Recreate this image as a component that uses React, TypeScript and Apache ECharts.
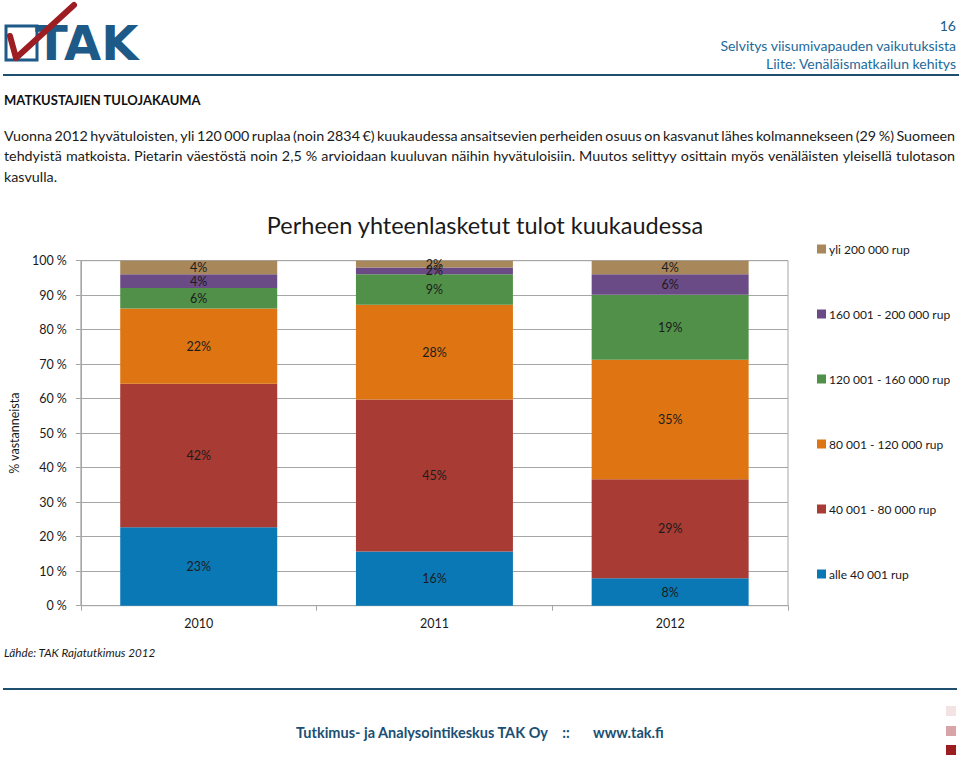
import React, { useEffect, useRef } from 'react';
import * as echarts from 'echarts';

const years = ['2010', '2011', '2012'];
const seriesNames = [
  'alle 40 001 rup',
  '40 001 - 80 000 rup',
  '80 001 - 120 000 rup',
  '120 001 - 160 000 rup',
  '160 001 - 200 000 rup',
  'yli 200 000 rup',
];
const alle40 = [23, 16, 8];
const r40to80 = [42, 45, 29];
const r80to120 = [22, 28, 35];
const r120to160 = [6, 9, 19];
const r160to200 = [4, 2, 6];
const yli200 = [4, 2, 4];
const seriesValues = [alle40, r40to80, r80to120, r120to160, r160to200, yli200];
const seriesColors = ['#0A78B5', '#A83B33', '#DE7512', '#519048', '#6B4B86', '#A8875A'];

const chartTitle = 'Perheen yhteenlasketut tulot kuukaudessa';
const yAxisName = '% vastanneista';
const headerNumber = '16';
const headerLine1 = 'Selvitys viisumivapauden vaikutuksista';
const headerLine2 = 'Liite: Venäläismatkailun kehitys';
const sectionTitle = 'MATKUSTAJIEN TULOJAKAUMA';
const paragraphLines = [
  'Vuonna 2012 hyvätuloisten, yli 120 000 ruplaa (noin 2834 €) kuukaudessa ansaitsevien perheiden osuus on kasvanut lähes kolmannekseen (29 %) Suomeen',
  'tehdyistä matkoista. Pietarin väestöstä noin 2,5 % arvioidaan kuuluvan näihin hyvätuloisiin. Muutos selittyy osittain myös venäläisten yleisellä tulotason',
  'kasvulla.',
];
const sourceText = 'Lähde: TAK Rajatutkimus 2012';
const footerName = 'Tutkimus- ja Analysointikeskus TAK Oy';
const footerSep = '::';
const footerUrl = 'www.tak.fi';

const FONT = 'Lato, "Open Sans", sans-serif';

export default function App() {
  const ref = useRef<HTMLDivElement>(null);
  useEffect(() => {
    document.body.style.margin = '0';
    if (!ref.current) return;
    const chart = echarts.init(ref.current, null, { renderer: 'svg' });

    const totals = years.map((_, i) => seriesValues.reduce((s, arr) => s + arr[i], 0));

    const series = seriesNames.map((name, si) => ({
      name,
      type: 'bar',
      stack: 'total',
      barCategoryGap: '33.4%',
      itemStyle: { color: seriesColors[si] },
      label: {
        show: true,
        position: 'inside',
        color: '#1c1c1c',
        fontFamily: FONT,
        fontSize: 12.5,
        formatter: (p: any) => p.data.raw + '%',
      },
      data: seriesValues[si].map((v, i) => ({ value: (v / totals[i]) * 100, raw: v })),
    }));

    const justifyLine = (text: string, x: number, y: number, width: number, font: string, fill: string) => {
      const canvas = document.createElement('canvas');
      const ctx = canvas.getContext('2d')!;
      ctx.font = font;
      const words = text.split(' ');
      const widths = words.map((w) => ctx.measureText(w).width);
      const total = widths.reduce((a, b) => a + b, 0);
      const gap = (width - total) / (words.length - 1);
      let cx = x;
      return words.map((w, i) => {
        const el = {
          type: 'text',
          style: { text: w, x: cx, y, font, fill, textVerticalAlign: 'middle' },
        };
        cx += widths[i] + gap;
        return el;
      });
    };

    const bodyFont = '14.3px ' + FONT;
    const bodyColor = '#1a1a1a';

    chart.setOption({
      animation: false,
      color: seriesColors,
      title: {
        text: chartTitle,
        left: 480,
        top: 208,
        textAlign: 'center',
        textStyle: { fontFamily: FONT, fontSize: 23.5, fontWeight: 'normal', color: '#1a1a1a' },
      },
      legend: {
        orient: 'vertical',
        left: 812,
        top: 237,
        itemWidth: 9,
        itemHeight: 9,
        itemGap: 51,
        icon: 'rect',
        data: [...seriesNames].reverse(),
        textStyle: { fontFamily: FONT, fontSize: 12, color: '#1a1a1a', lineHeight: 14, padding: [0, 0, 0, -2] },
      },
      grid: {
        left: 76,
        top: 260.7,
        width: 712,
        height: 345,
        show: true,
        borderColor: '#a6a6a6',
        borderWidth: 1,
      },
      xAxis: {
        type: 'category',
        data: years,
        axisLine: { lineStyle: { color: '#a6a6a6' } },
        axisTick: { show: true, length: 5, lineStyle: { color: '#a6a6a6' } },
        axisLabel: { fontFamily: FONT, fontSize: 12.5, color: '#1a1a1a', margin: 11 },
      },
      yAxis: {
        type: 'value',
        min: 0,
        max: 100,
        interval: 10,
        name: yAxisName,
        nameLocation: 'middle',
        nameGap: 56,
        nameRotate: 90,
        nameTextStyle: { fontFamily: FONT, fontSize: 12.5, color: '#1a1a1a' },
        axisLine: { show: true, lineStyle: { color: '#a6a6a6' } },
        axisTick: { show: true, length: 5, lineStyle: { color: '#a6a6a6' } },
        splitLine: { lineStyle: { color: '#a6a6a6' } },
        axisLabel: { fontFamily: FONT, fontSize: 12.5, color: '#1a1a1a', margin: 14, formatter: '{value} %' },
      },
      series,
      graphic: [
        // logo
        { type: 'rect', shape: { x: 6, y: 26, width: 31, height: 34 }, style: { fill: 'none', stroke: '#1d5a87', lineWidth: 3 } },
        {
          type: 'text',
          style: { text: 'TAK', x: 35, y: 43, font: '900 48px "DejaVu Sans", sans-serif', fill: '#1d5a87', textVerticalAlign: 'middle' },
        },
        {
          type: 'polyline',
          shape: { points: [[10, 36], [16, 58], [74, 5]] },
          style: { stroke: '#9c1d22', lineWidth: 6, fill: 'none', lineJoin: 'round', lineCap: 'round' },
        },
        { type: 'line', shape: { x1: 3, y1: 75, x2: 959, y2: 75 }, style: { stroke: '#1e4f6e', lineWidth: 2 } },
        // header right
        { type: 'text', style: { text: headerNumber, x: 956, y: 25, font: '14px ' + FONT, fill: '#1d5a87', textAlign: 'right', textVerticalAlign: 'middle' } },
        { type: 'text', style: { text: headerLine1, x: 956, y: 45, font: '14px ' + FONT, fill: '#1d6a9a', textAlign: 'right', textVerticalAlign: 'middle' } },
        { type: 'text', style: { text: headerLine2, x: 956, y: 63, font: '14px ' + FONT, fill: '#1d6a9a', textAlign: 'right', textVerticalAlign: 'middle' } },
        // section title and paragraph
        { type: 'text', style: { text: sectionTitle, x: 4, y: 100, font: 'bold 13px ' + FONT, fill: '#111', textVerticalAlign: 'middle' } },
        ...justifyLine(paragraphLines[0], 4, 135, 951, bodyFont, bodyColor),
        ...justifyLine(paragraphLines[1], 4, 155, 951, bodyFont, bodyColor),
        { type: 'text', style: { text: paragraphLines[2], x: 4, y: 176, font: bodyFont, fill: bodyColor, textVerticalAlign: 'middle' } },
        // source
        { type: 'text', style: { text: sourceText, x: 4, y: 652, font: 'italic 11.7px ' + FONT, fill: '#1a1a1a', textVerticalAlign: 'middle' } },
        // footer
        { type: 'line', shape: { x1: 3, y1: 689, x2: 957, y2: 689 }, style: { stroke: '#1e4f6e', lineWidth: 2 } },
        { type: 'text', style: { text: footerName, x: 296, y: 732, font: 'bold 14.5px ' + FONT, fill: '#1b4f73', textVerticalAlign: 'middle' } },
        { type: 'text', style: { text: footerSep, x: 566, y: 732, font: 'bold 14.5px ' + FONT, fill: '#1b4f73', textAlign: 'center', textVerticalAlign: 'middle' } },
        { type: 'text', style: { text: footerUrl, x: 593, y: 732, font: 'bold 14.5px ' + FONT, fill: '#1b4f73', textVerticalAlign: 'middle' } },
        { type: 'rect', shape: { x: 946, y: 706, width: 10, height: 10 }, style: { fill: '#f3e3e5' } },
        { type: 'rect', shape: { x: 946, y: 726, width: 10, height: 10 }, style: { fill: '#d8a4a7' } },
        { type: 'rect', shape: { x: 946, y: 745, width: 10, height: 10 }, style: { fill: '#9b1c21' } },
      ],
    });
    return () => chart.dispose();
  }, []);
  return <div ref={ref} style={{ width: 959, height: 760 }} />;
}
